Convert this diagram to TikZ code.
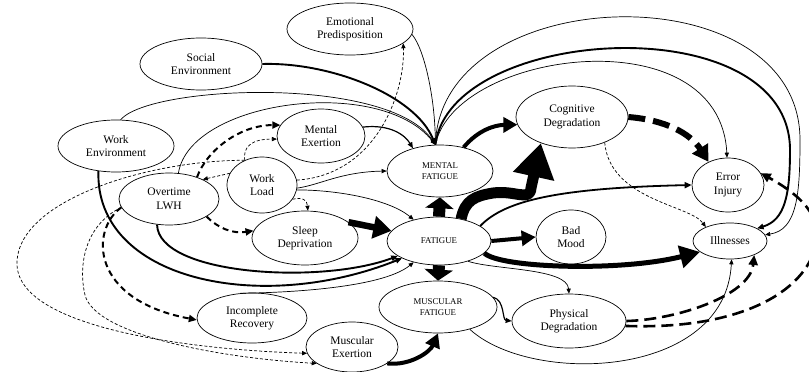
\documentclass[tikz,border=0pt]{standalone}
\usepackage{fontspec}
\setmainfont{Liberation Serif}
\usetikzlibrary{arrows.meta,shapes.geometric}
\begin{document}
\begin{tikzpicture}[x=1pt,y=-1pt,
  box/.style={ellipse, draw, line width=0.7pt, inner sep=0pt, align=center,
    font=\fontsize{11.5}{13.5}\selectfont},
  capsbox/.style={box, font=\fontsize{8.8}{10.5}\selectfont},
  lk/.style={line width=0.7pt, -{Triangle[length=5pt,width=4.2pt]}},
  lkd/.style={line width=0.7pt, dash pattern=on 3pt off 2pt, -{Triangle[length=5pt,width=4.2pt]}},
  lkm/.style={line width=1.2pt, -{Triangle[length=6pt,width=5pt]}},
  lkt/.style={line width=1.9pt, -{Triangle[length=6.5pt,width=5.5pt]}},
  lktd/.style={line width=2pt, dash pattern=on 6pt off 4pt, -{Triangle[length=8pt,width=7pt]}},
  lkdd/.style={line width=2.6pt, dash pattern=on 12pt off 6pt, -{Triangle[length=10pt,width=9pt]}},
  lkh/.style={line width=4pt, -{Triangle[length=14pt,width=15pt]}},
  block/.style={line width=12pt, -{Triangle[length=11pt,width=28pt]}}]

\fill[white] (0,0) rectangle (809,372);
\useasboundingbox (0,0) rectangle (809,372);

% factors and outcomes
\node[box, minimum width=126pt, minimum height=52pt] (emo)  at (350,29)  {Emotional\\Predisposition};
\node[box, minimum width=122pt, minimum height=52pt] (soc)  at (201,64)  {Social\\Environment};
\node[box, minimum width=116pt, minimum height=52pt] (wenv) at (116,146) {Work\\Environment};
\node[box, minimum width=88pt,  minimum height=54pt] (mex)  at (321,136) {Mental\\Exertion};
\node[box, minimum width=70pt,  minimum height=56pt] (wl)   at (262,185) {Work\\Load};
\node[box, minimum width=100pt, minimum height=52pt] (ot)   at (169,199) {Overtime\\LWH};
\node[box, minimum width=106pt, minimum height=54pt] (sd)   at (305,238) {Sleep\\Deprivation};
\node[capsbox, minimum width=106pt, minimum height=52pt] (mf)   at (440,171) {MENTAL\\FATIGUE};
\node[capsbox, minimum width=104pt, minimum height=48pt] (fat)  at (439,241) {FATIGUE};
\node[capsbox, minimum width=118pt, minimum height=52pt] (musf) at (438,307) {MUSCULAR\\FATIGUE};
\node[box, minimum width=112pt, minimum height=62pt] (cog)  at (572,117) {Cognitive\\Degradation};
\node[box, minimum width=70pt,  minimum height=54pt] (bad)  at (571,237) {Bad\\Mood};
\node[box, minimum width=72pt,  minimum height=54pt] (err)  at (728,185) {Error\\Injury};
\node[box, minimum width=74pt,  minimum height=36pt] (ill)  at (730,241) {Illnesses};
\node[box, minimum width=110pt, minimum height=50pt] (inc)  at (252,318) {Incomplete\\Recovery};
\node[box, minimum width=92pt,  minimum height=50pt] (mux)  at (352,347) {Muscular\\Exertion};
\node[box, minimum width=114pt, minimum height=54pt] (phys) at (569,321) {Physical\\Degradation};

% inputs converging on mental fatigue
\draw[lk]  (emo.-5) .. controls (425,50) and (435,100) .. (mf.100);
\draw[lkt] (soc.east) .. controls (330,62) and (415,95) .. (mf.100);
\draw[lk]  (wenv.80) .. controls (150,85) and (390,75) .. (mf.100);
\draw[lk]  (ot.70) .. controls (190,100) and (380,75) .. (mf.100);
\draw[lkm] (mex.12) .. controls (390,124) and (405,135) .. (mf.140);
\draw[lk]  (wl.-5) .. controls (320,185) and (340,172) .. (mf.180);

% inputs to fatigue
\draw[lk]  (wl.-8) .. controls (340,190) and (390,200) .. (fat.140);
\draw[lk]  (inc.115) .. controls (270,293) and (380,290) .. (fat.-140);
\draw[lkt] (ot.-115) .. controls (158,275) and (320,285) .. (fat.-160);
\draw[lkt] (wenv.-125) .. controls (95,280) and (260,315) .. (fat.-155);
\draw[line width=6.5pt, -{Triangle[length=18pt,width=22pt]}] (sd.20) -- (fat.168);

% fatigue splits
\draw[block] (fat.north) -- (mf.south);
\draw[block] (fat.south) -- (musf.north);

% fatigue consequences
\draw[line width=11pt, line join=round, -{Triangle[length=34pt,width=40pt]}]
  (fat.45) .. controls (465,200) and (475,196) .. (493,193)
  .. controls (515,190) and (530,202) .. (531,188) -- (cog.-140);
\draw[lkh] (mf.45) .. controls (478,130) and (495,125) .. (cog.-172);
\draw[lkh] (fat.east) -- (bad.west);
\draw[line width=1.8pt, -{Triangle[length=7pt,width=6pt]}]
  (fat.20) .. controls (505,200) and (560,188) .. (err.west);
\draw[line width=5pt, -{Triangle[length=20pt,width=22pt]}]
  (fat.-15) .. controls (500,268) and (620,272) .. (ill.200);
\draw[lk]  (fat.-35) .. controls (495,270) and (567,268) .. (phys.north);
\draw[lkm] (musf.10) .. controls (505,300) and (502,320) .. (phys.west);
\draw[lk]  (musf.-35) .. controls (530,385) and (725,380) .. (ill.-85);

% degradation to outcomes
\draw[lkdd] (phys.east) .. controls (675,320) and (750,296) .. (ill.-30);
\draw[lkdd] (phys.-5) .. controls (740,330) and (805,292) .. (816,245)
  .. controls (822,215) and (800,195) .. (err.20);
\draw[line width=6pt, dash pattern=on 17pt off 8pt, -{Triangle[length=16pt,width=18pt]}]
  (cog.east) .. controls (665,120) and (690,133) .. (err.130);
\draw[lkd] (cog.-38) .. controls (610,200) and (690,205) .. (ill.150);

% mental fatigue long arcs
\draw[lk]  (mf.100) .. controls (455,50) and (720,15) .. (err.92);
\draw[lkt] (mf.100) .. controls (450,25) and (790,5) .. (790,150)
  .. controls (790,195) and (785,220) .. (ill.25);
\draw[lk]  (mf.100) .. controls (440,-20) and (800,-30) .. (800,140)
  .. controls (800,195) and (797,230) .. (ill.10);

% overtime and work load effects
\draw[lktd] (ot.-25) .. controls (218,228) and (232,234) .. (sd.172);
\draw[lktd] (ot.38) .. controls (207,150) and (240,125) .. (mex.165);
\draw[lktd] (ot.190) .. controls (90,230) and (90,300) .. (inc.182);
\draw[lkd]  (wl.160) -- (ot.30);
\draw[lkd]  (wl.125) .. controls (243,148) and (250,139) .. (mex.184);
\draw[lkd]  (wl.8) .. controls (375,175) and (405,95) .. (emo.-15);
\draw[lkd]  (wl.-25) .. controls (303,197) and (307,200) .. (sd.84);
\draw[lkd]  (wl.125) .. controls (150,160) and (15,200) .. (17,265)
  .. controls (20,330) and (200,350) .. (mux.188);
\draw[lkd]  (ot.190) .. controls (85,225) and (78,265) .. (85,295)
  .. controls (95,335) and (220,358) .. (mux.205);

% muscular exertion
\draw[lkh] (mux.-25) .. controls (410,366) and (430,352) .. (musf.south);

\end{tikzpicture}
\end{document}
